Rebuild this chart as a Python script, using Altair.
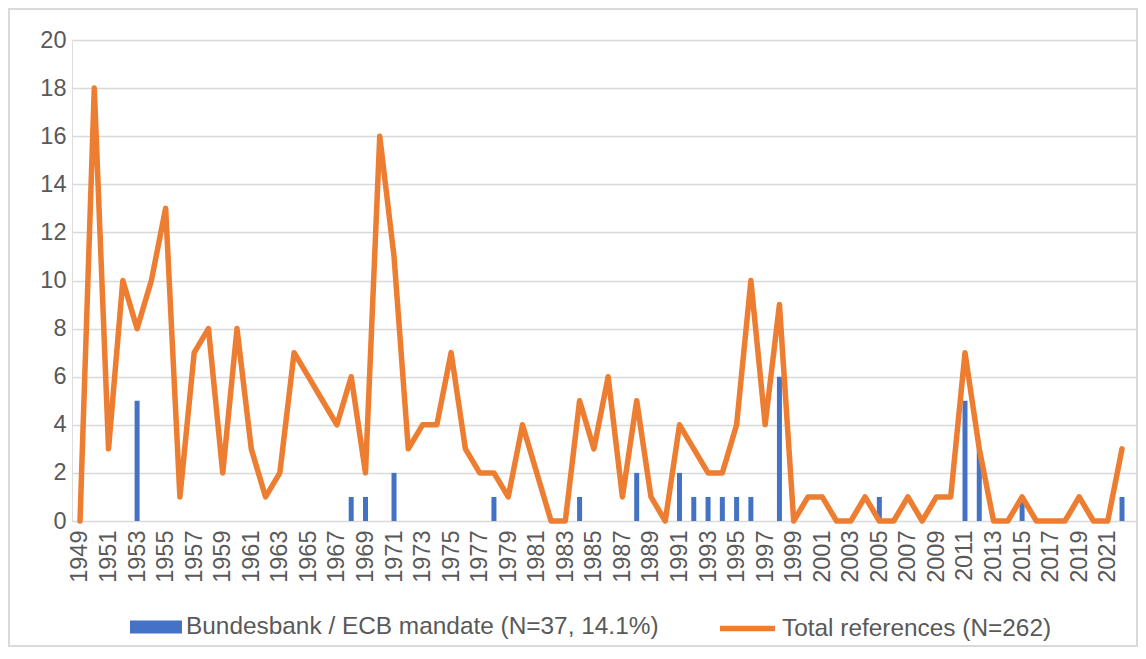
import altair as alt
import pandas as pd

years = list(range(1949, 2023))

total_refs = [0, 18, 3, 10, 8, 10, 13, 1, 7, 8,
              2, 8, 3, 1, 2, 7, 6, 5, 4, 6,
              2, 16, 11, 3, 4, 4, 7, 3, 2, 2,
              1, 4, 2, 0, 0, 5, 3, 6, 1, 5,
              1, 0, 4, 3, 2, 2, 4, 10, 4, 9,
              0, 1, 1, 0, 0, 1, 0, 0, 1, 0,
              1, 1, 7, 3, 0, 0, 1, 0, 0, 0,
              1, 0, 0, 3]

mandate = [0, 0, 0, 0, 5, 0, 0, 0, 0, 0,
           0, 0, 0, 0, 0, 0, 0, 0, 0, 1,
           1, 0, 2, 0, 0, 0, 0, 0, 0, 1,
           0, 0, 0, 0, 0, 1, 0, 0, 0, 2,
           0, 0, 2, 1, 1, 1, 1, 1, 0, 6,
           0, 0, 0, 0, 0, 0, 1, 0, 0, 0,
           0, 0, 5, 3, 0, 0, 1, 0, 0, 0,
           0, 0, 0, 1]

tick_years = list(range(1949, 2022, 2))
y_ticks = list(range(0, 21, 2))

bar_label = "Bundesbank / ECB mandate (N=37, 14.1%)"
line_label = "Total references (N=262)"

df = pd.DataFrame({
    "year": years,
    "total": total_refs,
    "mandate": mandate,
    "bar_series": [bar_label] * len(years),
    "line_series": [line_label] * len(years),
})

FONT = "Liberation Sans"
TXT = "#595959"
GRID = "#d9d9d9"

x_enc = alt.X(
    "year:Q",
    scale=alt.Scale(domain=[1948.44, 2023.12], nice=False, zero=False, padding=0),
    axis=alt.Axis(
        values=tick_years, format="d", labelAngle=-90, title=None,
        grid=False, ticks=False, domain=False, labelFontSize=23.5,
        labelColor=TXT, labelFont=FONT, labelPadding=9, labelOverlap=False,
        labelFlush=False,
    ),
)
y_scale = alt.Scale(domain=[0, 20], nice=False, padding=0)

frame = alt.Chart(df).mark_rect(
    fill=None, stroke=GRID, strokeWidth=1.5
).encode(
    x=alt.value(-63.5), x2=alt.value(1065), y=alt.value(-31.5), y2=alt.value(606)
)

bars = alt.Chart(df).mark_bar(size=5).encode(
    x=x_enc,
    y=alt.Y(
        "mandate:Q", scale=y_scale,
        axis=alt.Axis(
            values=y_ticks, title=None, grid=True, gridColor=GRID,
            gridWidth=1.5, ticks=False, domain=False, labelFontSize=23.5,
            labelColor=TXT, labelFont=FONT, labelPadding=6,
        ),
    ),
    color=alt.Color(
        "bar_series:N",
        scale=alt.Scale(domain=[bar_label], range=["#4472C4"]),
        legend=alt.Legend(
            title=None, orient="none", legendX=58, legendY=561,
            symbolType="M-1,-0.25H1V0.25H-1Z", symbolSize=2704,
            symbolStrokeWidth=0, labelFontSize=24.4, labelColor=TXT,
            labelFont=FONT, labelLimit=700, labelOffset=4,
        ),
    ),
)

line = alt.Chart(df).mark_line(
    strokeWidth=5.5, strokeJoin="round", strokeCap="round"
).encode(
    x=x_enc,
    y=alt.Y("total:Q", scale=y_scale),
    stroke=alt.Stroke(
        "line_series:N",
        scale=alt.Scale(domain=[line_label], range=["#ED7D31"]),
        legend=alt.Legend(
            title=None, orient="none", legendX=645, legendY=558,
            symbolType="stroke", symbolSize=3025, symbolStrokeWidth=5.5,
            labelFontSize=24.4, labelColor=TXT, labelFont=FONT,
            labelLimit=700, labelOffset=4,
        ),
    ),
)

chart = alt.layer(frame, bars, line).properties(
    width=1066,
    height=481,
    autosize=alt.AutoSizeParams(type="none"),
    padding={"left": 64, "top": 32, "right": 0, "bottom": 126},
).configure_view(stroke=None).configure(background="white")

chart.save("out.html", embed_options={"renderer": "svg", "actions": False})
